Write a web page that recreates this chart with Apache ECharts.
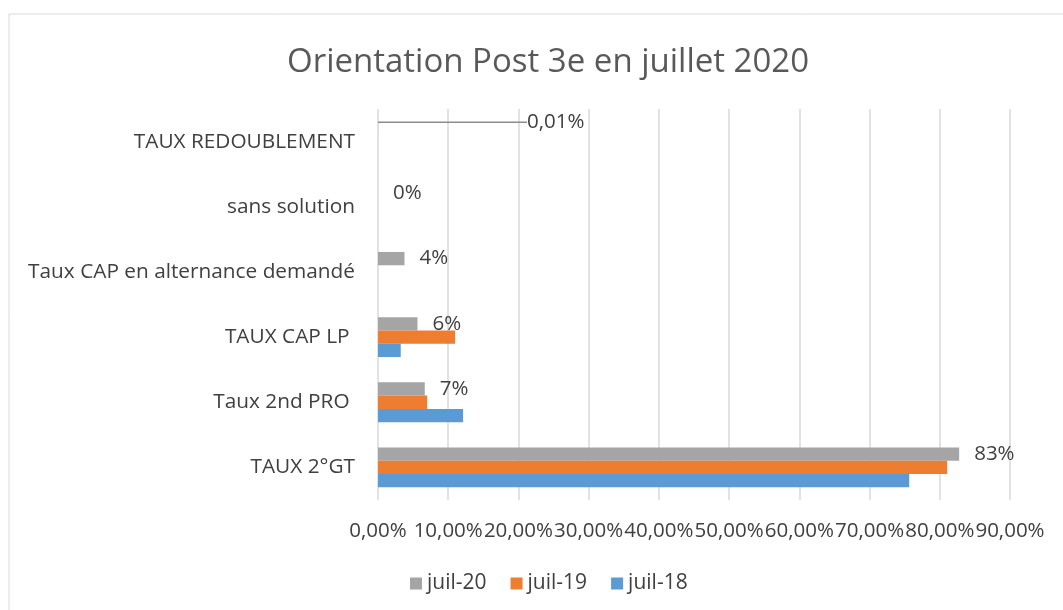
<!DOCTYPE html>
<html>
<head>
<meta charset="utf-8">
<script src="https://cdn.jsdelivr.net/npm/echarts@6/dist/echarts.min.js"></script>
<style>
  html, body { margin: 0; padding: 0; background: #fff; }
  #chart { width: 1063px; height: 610px; }
</style>
</head>
<body>
<div id="chart"></div>
<script>
const categories = ['TAUX 2°GT', 'Taux 2nd PRO ', 'TAUX CAP LP ', 'Taux CAP en alternance demandé', 'sans solution', 'TAUX REDOUBLEMENT'];
const juil20 = [0.8276, 0.0666, 0.0562, 0.0377, 0, 0.0001];
const juil19 = [0.8105, 0.0700, 0.1098, 0, 0, 0];
const juil18 = [0.7565, 0.1212, 0.0324, 0, 0, 0];
const seriesNames = ['juil-20', 'juil-19', 'juil-18'];
const colors = ['#A5A5A5', '#ED7D31', '#5B9BD5'];

const font = '"Open Sans", sans-serif';
const textColor = '#404040';

function pct(v) {
  if (v > 0 && v < 0.001) return (v * 100).toFixed(2).replace('.', ',') + '%';
  return Math.round(v * 100) + '%';
}

// only the tiny redoublement value gets the leader line
const juil20Data = juil20.map((v, i) => i === categories.length - 1
  ? { value: v, labelLine: { show: true } }
  : v);

const chart = echarts.init(document.getElementById('chart'));

chart.setOption({
  animation: false,
  textStyle: { fontFamily: font },
  graphic: [{
    type: 'rect',
    shape: { x: 9, y: 14, width: 1100, height: 700 },
    style: { fill: 'none', stroke: '#d9d9d9', lineWidth: 1 },
    silent: true
  }],
  title: {
    text: 'Orientation Post 3e en juillet 2020',
    left: 282,
    top: 41,
    textStyle: { fontFamily: font, fontSize: 33, fontWeight: 'normal', color: '#595959' }
  },
  legend: {
    data: seriesNames,
    bottom: 11,
    left: 405,
    itemWidth: 12,
    itemHeight: 12,
    itemGap: 24,
    icon: 'rect',
    textStyle: { fontFamily: font, fontSize: 21, color: textColor }
  },
  grid: { left: 378, right: 53, top: 109, bottom: 110, containLabel: false },
  xAxis: {
    type: 'value',
    min: 0,
    max: 0.9,
    interval: 0.1,
    axisLine: { show: false },
    axisTick: { show: false },
    splitLine: { lineStyle: { color: '#d9d9d9', width: 1.5 } },
    axisLabel: {
      margin: 21,
      fontFamily: font,
      fontSize: 20.5,
      color: textColor,
      formatter: v => (v * 100).toFixed(2).replace('.', ',') + '%'
    }
  },
  yAxis: {
    type: 'category',
    data: categories,
    axisLine: { show: false },
    axisTick: { show: false },
    axisLabel: { margin: 23, fontFamily: font, fontSize: 20.8, color: textColor, padding: [4, 0, 0, 0] }
  },
  series: [
    {
      name: seriesNames[0],
      type: 'bar',
      data: juil20Data,
      barWidth: 13.3,
      barGap: '0%',
      itemStyle: { color: colors[0] },
      label: {
        show: true,
        position: 'right',
        distance: 15,
        fontFamily: font,
        fontSize: 20.5,
        color: textColor,
        formatter: p => pct(p.value)
      },
      labelLine: { show: false, lineStyle: { color: '#8c8c8c', width: 1.5 } },
      labelLayout: p => (p.dataIndex === 5 ? { dx: 134, dy: -6 } : {})
    },
    {
      name: seriesNames[1],
      type: 'bar',
      data: juil19,
      barWidth: 13.3,
      barGap: '0%',
      itemStyle: { color: colors[1] }
    },
    {
      name: seriesNames[2],
      type: 'bar',
      data: juil18,
      barWidth: 13.3,
      barGap: '0%',
      itemStyle: { color: colors[2] }
    }
  ]
});
</script>
</body>
</html>
